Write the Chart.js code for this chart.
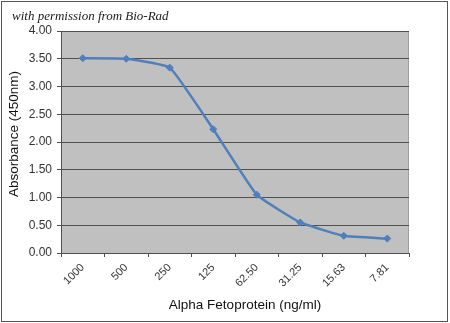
<!DOCTYPE html>
<html>
<head>
<meta charset="utf-8">
<script src="https://cdn.jsdelivr.net/npm/chart.js@4.4.0/dist/chart.umd.min.js"></script>
<style>
    html, body { margin: 0; padding: 0; background: #ffffff; }
    #chart-box { position: relative; width: 450px; height: 323px; }
</style>
</head>
<body>
<div id="chart-box">
    <canvas id="chart-container" width="450" height="323"></canvas>
</div>
<script>
const concentrations = ["1000", "500", "250", "125", "62.50", "31.25", "15.63", "7.81"];
const absorbance = [3.51, 3.50, 3.34, 2.23, 1.05, 0.55, 0.31, 0.26];
const yTicks = [0, 0.5, 1, 1.5, 2, 2.5, 3, 3.5, 4];

const noteText = "with permission from Bio-Rad";
const xTitle = "Alpha Fetoprotein (ng/ml)";
const yTitle = "Absorbance (450nm)";

const lineColor = "#4f7fbc";
const gridColor = "#505050";
const titleFont = "13.5px 'Liberation Sans', Arial, sans-serif";

// grey plot area, frame, axis titles and the little note at the top
const framePlugin = {
    id: "frame",
    beforeDraw: function (chart) {
        const ctx = chart.ctx;
        const area = chart.chartArea;
        ctx.save();
        ctx.fillStyle = "#ffffff";
        ctx.fillRect(0, 0, chart.width, chart.height);
        ctx.fillStyle = "#c0c0c0";
        ctx.fillRect(area.left, area.top, area.right - area.left, area.bottom - area.top);
        ctx.strokeStyle = "#a0a0a0";
        ctx.lineWidth = 1;
        ctx.strokeRect(area.left + 0.5, area.top + 0.5, area.right - area.left - 1, area.bottom - area.top);
        ctx.restore();
    },
    afterDraw: function (chart) {
        const ctx = chart.ctx;
        ctx.save();
        ctx.strokeStyle = "#555555";
        ctx.lineWidth = 1;
        ctx.strokeRect(1.5, 1.5, 446, 320);

        ctx.fillStyle = "#1a1a1a";
        ctx.font = "italic 13px 'Liberation Serif', 'DejaVu Serif', serif";
        ctx.textBaseline = "middle";
        ctx.textAlign = "left";
        ctx.fillText(noteText, 12, 17);

        ctx.fillStyle = "#111111";
        ctx.font = titleFont;
        ctx.textAlign = "center";
        ctx.fillText(xTitle, 245, 305);

        ctx.translate(14, 134);
        ctx.rotate(-Math.PI / 2);
        ctx.fillText(yTitle, 0, 0);
        ctx.restore();
    }
};

document.addEventListener("DOMContentLoaded", function () {
    const ctx = document.getElementById("chart-container").getContext("2d");

    new Chart(ctx, {
        type: "line",
        data: {
            labels: concentrations,
            datasets: [
                {
                    data: absorbance,
                    borderColor: lineColor,
                    backgroundColor: lineColor,
                    borderWidth: 2.5,
                    pointStyle: "rectRot",
                    pointRadius: 3.5,
                    pointBorderWidth: 1,
                    tension: 0.12,
                    fill: false,
                },
            ],
        },
        options: {
            responsive: false,
            animation: false,
            devicePixelRatio: 1,
            layout: {
                padding: { left: 0, right: 41, top: 31, bottom: 0 },
            },
            plugins: {
                legend: { display: false },
                tooltip: { enabled: false },
            },
            scales: {
                x: {
                    offset: true,
                    grid: {
                        offset: true,
                        drawOnChartArea: false,
                        color: gridColor,
                        tickLength: 4,
                    },
                    border: { color: gridColor, width: 1 },
                    ticks: {
                        color: "#333333",
                        font: { family: "'Liberation Sans', Arial, sans-serif", size: 11 },
                        minRotation: 45,
                        maxRotation: 45,
                        padding: 4,
                    },
                    afterFit: function (scale) {
                        scale.height = 70;
                    },
                },
                y: {
                    min: 0,
                    max: 4,
                    afterBuildTicks: function (scale) {
                        scale.ticks = yTicks.map(v => ({ value: v }));
                    },
                    grid: {
                        color: gridColor,
                        tickLength: 4,
                    },
                    border: { color: gridColor, width: 1 },
                    ticks: {
                        color: "#333333",
                        font: { family: "'Liberation Sans', Arial, sans-serif", size: 12 },
                        padding: 5,
                        callback: function (value) {
                            return Number(value).toFixed(2);
                        },
                    },
                    afterFit: function (scale) {
                        scale.width = 61;
                    },
                },
            },
        },
        plugins: [framePlugin],
    });
});
</script>
</body>
</html>
